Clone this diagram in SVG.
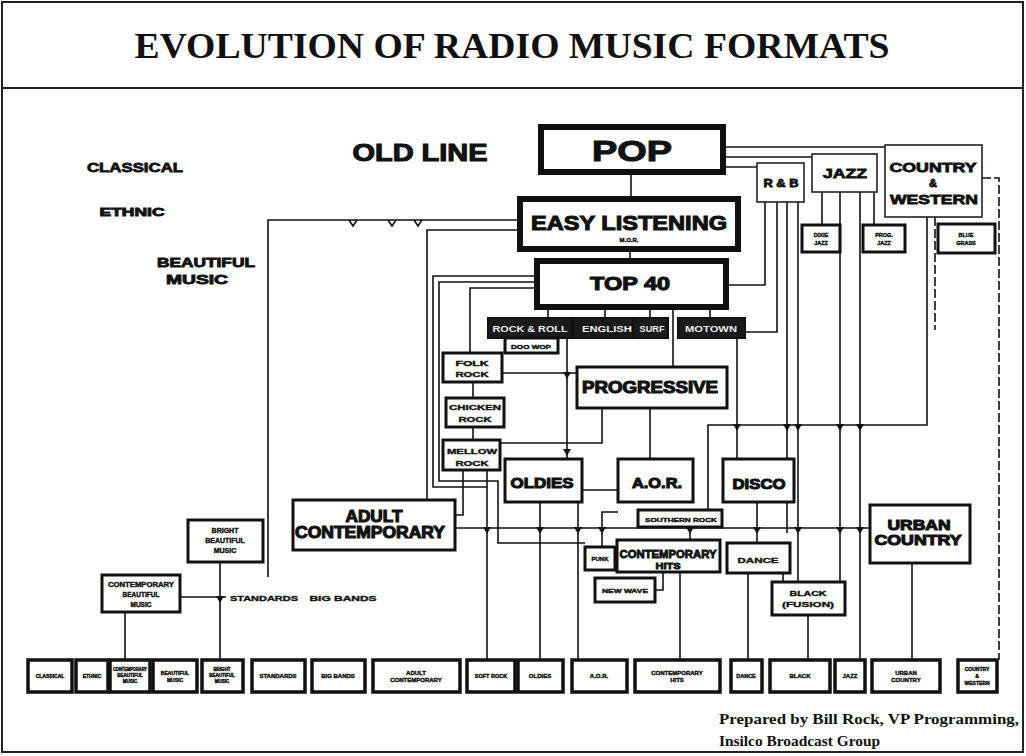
<svg xmlns="http://www.w3.org/2000/svg" width="1026" height="756" viewBox="0 0 1026 756">
<defs>
<style>
.b{fill:#fff;stroke:#111;stroke-width:3}
.b6{fill:#fff;stroke:#111;stroke-width:6}
.b1{fill:#fff;stroke:#222;stroke-width:1.6}
.bd{fill:#1a1a1a;stroke:#111;stroke-width:2}
.bb{fill:#fff;stroke:#111;stroke-width:3.5}
.t{font-family:"Liberation Sans",Arial,sans-serif;font-weight:bold;fill:#111;text-anchor:middle;stroke:#111;stroke-width:0.4}
.h{stroke-width:1.1}
.m{stroke-width:0.8}
.tw{font-family:"Liberation Sans",Arial,sans-serif;font-weight:bold;fill:#eee;text-anchor:middle}
.s{font-family:"Liberation Serif","Times New Roman",serif;font-weight:bold;fill:#111}
.c{fill:none;stroke:#111;stroke-width:1.6}
.a{fill:#111;stroke:none}
</style>
<path id="ar" d="M-4,-1 L4,-1 L0,6 Z"/>
<path id="vn" d="M-4,0 L0,6 L4,0"/>
</defs>
<rect x="0" y="0" width="1026" height="756" fill="#fff"/>
<rect x="2" y="2" width="1021" height="750" fill="none" stroke="#222" stroke-width="2"/>
<line x1="2" y1="88" x2="1023" y2="88" stroke="#222" stroke-width="2"/>
<text class="s" x="512" y="58" font-size="36" text-anchor="middle" textLength="755" lengthAdjust="spacingAndGlyphs">EVOLUTION OF RADIO MUSIC FORMATS</text>

<g id="labels">
<text class="t m" x="135" y="172" font-size="13" textLength="96" lengthAdjust="spacingAndGlyphs">CLASSICAL</text>
<text class="t m" x="132" y="216" font-size="11" textLength="65" lengthAdjust="spacingAndGlyphs">ETHNIC</text>
<text class="t m" x="206" y="267" font-size="12" textLength="98" lengthAdjust="spacingAndGlyphs">BEAUTIFUL</text>
<text class="t m" x="197" y="284" font-size="12" textLength="62" lengthAdjust="spacingAndGlyphs">MUSIC</text>
<text class="t h" x="420" y="161" font-size="24" textLength="135" lengthAdjust="spacingAndGlyphs">OLD LINE</text>
<text class="t" x="264" y="601" font-size="8" textLength="68" lengthAdjust="spacingAndGlyphs">STANDARDS</text>
<text class="t" x="343" y="601" font-size="8" textLength="67" lengthAdjust="spacingAndGlyphs">BIG BANDS</text>
</g>

<g id="connectors" class="c">
<path d="M631,172V199"/>
<path d="M630,249V261"/>
<path d="M723,147H885"/>
<path d="M723,157H812"/>
<path d="M723,167H757"/>
<path d="M765,202V285H726"/>
<path d="M777,202V332H745"/>
<path d="M787,202V533"/>
<path d="M798,202V582"/>
<path d="M822,192V225"/>
<path d="M874,192V225"/>
<path d="M840,192V582"/>
<path d="M860,192V660"/>
<path d="M927,217V425H708V510"/>
<path d="M982,178H999V660" stroke-dasharray="9,3"/>
<path d="M935,217V330" stroke-dasharray="9,3"/>
<path d="M548,307V320M605,307V320M650,307V320M710,307V320"/>
<path d="M673,307V367"/>
<path d="M737,338V458"/>
<path d="M567,338V458"/>
<path d="M502,373H577"/>
<path d="M473,382V398M473,427V440"/>
<path d="M602,408V443H500"/>
<path d="M650,408V458"/>
<path d="M520,220H268V577"/>
<path d="M520,230H427V500"/>
<path d="M537,276H433V487H487"/>
<path d="M537,282H439V481H498V543H585"/>
<path d="M537,288H470V353"/>
<path d="M463,470V515H455"/>
<path d="M455,528H870"/>
<path d="M487,470V660"/>
<path d="M540,502V660"/>
<path d="M618,490H578V660"/>
<path d="M618,512H602V547"/>
<path d="M690,527V540"/>
<path d="M757,502V543"/>
<path d="M663,572V590H655"/>
<path d="M680,572V660"/>
<path d="M748,573V660"/>
<path d="M783,573V582"/>
<path d="M808,615V660"/>
<path d="M912,563V660"/>
<path d="M125,612V660"/>
<path d="M220,562V660"/>
<path d="M180,597H226"/>
<g class="a">
<use href="#ar" x="487" y="528"/><use href="#ar" x="540" y="528"/><use href="#ar" x="578" y="528"/>
<use href="#ar" x="602" y="528"/><use href="#ar" x="690" y="528"/><use href="#ar" x="757" y="528"/>
<use href="#ar" x="798" y="528"/><use href="#ar" x="840" y="528"/><use href="#ar" x="860" y="528"/>
<use href="#ar" x="737" y="425"/><use href="#ar" x="787" y="425"/><use href="#ar" x="798" y="425"/>
<use href="#ar" x="840" y="425"/><use href="#ar" x="860" y="425"/>
<use href="#ar" x="567" y="450"/><use href="#ar" x="567" y="373"/><use href="#ar" x="220" y="597"/>
</g>
<use href="#vn" x="353" y="220"/><use href="#vn" x="392" y="220"/><use href="#vn" x="418" y="220"/>
</g>

<g id="pop"><rect class="b6" x="541" y="127" width="182" height="45"/><text class="t h" x="632" y="161" font-size="30" textLength="80" lengthAdjust="spacingAndGlyphs">POP</text></g>
<g id="easy-listening"><rect class="b6" x="520" y="199" width="218" height="50"/><text class="t h" x="629" y="230" font-size="21" textLength="196" lengthAdjust="spacingAndGlyphs">EASY LISTENING</text><text class="t" x="629" y="242" font-size="6">M.O.R.</text></g>
<g id="top40"><rect class="b6" x="537" y="261" width="189" height="46"/><text class="t h" x="630" y="290" font-size="19" textLength="80" lengthAdjust="spacingAndGlyphs">TOP 40</text></g>
<g id="rnb"><rect class="b1" x="757" y="163" width="47" height="39"/><text class="t m" x="781" y="187" font-size="11" textLength="35" lengthAdjust="spacingAndGlyphs">R &amp; B</text></g>
<g id="jazz"><rect class="b1" x="812" y="154" width="65" height="38"/><text class="t m" x="845" y="178" font-size="13" textLength="44" lengthAdjust="spacingAndGlyphs">JAZZ</text></g>
<g id="country-western"><rect class="b1" x="885" y="145" width="97" height="72"/><text class="t m" x="933" y="172" font-size="13" textLength="87" lengthAdjust="spacingAndGlyphs">COUNTRY</text><text class="t m" x="933" y="187" font-size="11">&amp;</text><text class="t m" x="934" y="204" font-size="13" textLength="88" lengthAdjust="spacingAndGlyphs">WESTERN</text></g>
<g id="dixie-jazz"><rect class="b" x="802" y="225" width="38" height="27"/><text class="t" x="821" y="237" font-size="5.5">DIXIE</text><text class="t" x="821" y="245" font-size="5.5">JAZZ</text></g>
<g id="prog-jazz"><rect class="b" x="863" y="225" width="42" height="27"/><text class="t" x="884" y="237" font-size="5.5">PROG.</text><text class="t" x="884" y="245" font-size="5.5">JAZZ</text></g>
<g id="blue-grass"><rect class="b" x="938" y="224" width="57" height="29"/><text class="t" x="966" y="237" font-size="5.5">BLUE</text><text class="t" x="966" y="245" font-size="5.5">GRASS</text></g>

<g id="rock-and-roll"><rect class="bd" x="488" y="318" width="84" height="20"/><text class="tw" x="530" y="332" font-size="9" textLength="75" lengthAdjust="spacingAndGlyphs">ROCK &amp; ROLL</text></g>
<g id="english"><rect class="bd" x="573" y="318" width="60" height="20"/><text class="tw" x="607" y="332" font-size="9" textLength="50" lengthAdjust="spacingAndGlyphs">ENGLISH</text></g>
<g id="surf"><rect class="bd" x="633" y="318" width="35" height="20"/><text class="tw" x="652" y="332" font-size="9" textLength="25" lengthAdjust="spacingAndGlyphs">SURF</text></g>
<g id="motown"><rect class="bd" x="678" y="318" width="67" height="20"/><text class="tw" x="711" y="332" font-size="9" textLength="52" lengthAdjust="spacingAndGlyphs">MOTOWN</text></g>
<g id="doo-wop"><rect class="b" x="505" y="338" width="53" height="15"/><text class="t" x="531" y="349" font-size="6" textLength="40" lengthAdjust="spacingAndGlyphs">DOO WOP</text></g>

<g id="folk-rock"><rect class="b" x="443" y="353" width="59" height="29"/><text class="t" x="472" y="366" font-size="8" textLength="33" lengthAdjust="spacingAndGlyphs">FOLK</text><text class="t" x="472" y="377" font-size="8" textLength="33" lengthAdjust="spacingAndGlyphs">ROCK</text></g>
<g id="chicken-rock"><rect class="b" x="446" y="398" width="58" height="29"/><text class="t" x="475" y="410" font-size="8" textLength="52" lengthAdjust="spacingAndGlyphs">CHICKEN</text><text class="t" x="475" y="422" font-size="8" textLength="33" lengthAdjust="spacingAndGlyphs">ROCK</text></g>
<g id="mellow-rock"><rect class="b" x="443" y="440" width="57" height="30"/><text class="t" x="472" y="454" font-size="8" textLength="50" lengthAdjust="spacingAndGlyphs">MELLOW</text><text class="t" x="472" y="466" font-size="8" textLength="33" lengthAdjust="spacingAndGlyphs">ROCK</text></g>
<g id="progressive"><rect class="b" x="577" y="367" width="150" height="41"/><text class="t h" x="650" y="393" font-size="16" textLength="136" lengthAdjust="spacingAndGlyphs">PROGRESSIVE</text></g>

<g id="oldies"><rect class="b" x="505" y="459" width="77" height="43"/><text class="t h" x="542" y="488" font-size="15" textLength="63" lengthAdjust="spacingAndGlyphs">OLDIES</text></g>
<g id="aor"><rect class="b" x="618" y="459" width="75" height="43"/><text class="t h" x="657" y="488" font-size="15" textLength="50" lengthAdjust="spacingAndGlyphs">A.O.R.</text></g>
<g id="disco"><rect class="b" x="723" y="459" width="71" height="43"/><text class="t h" x="759" y="489" font-size="15" textLength="53" lengthAdjust="spacingAndGlyphs">DISCO</text></g>
<g id="southern-rock"><rect class="b" x="638" y="510" width="84" height="17"/><text class="t" x="681" y="522" font-size="6" textLength="72" lengthAdjust="spacingAndGlyphs">SOUTHERN ROCK</text></g>
<g id="adult-contemporary"><rect class="b" x="293" y="500" width="162" height="50"/><text class="t h" x="374" y="522" font-size="16" textLength="57" lengthAdjust="spacingAndGlyphs">ADULT</text><text class="t h" x="370" y="538" font-size="16" textLength="150" lengthAdjust="spacingAndGlyphs">CONTEMPORARY</text></g>
<g id="urban-country"><rect class="b" x="870" y="505" width="100" height="58"/><text class="t h" x="919" y="530" font-size="15" textLength="63" lengthAdjust="spacingAndGlyphs">URBAN</text><text class="t h" x="918" y="545" font-size="15" textLength="87" lengthAdjust="spacingAndGlyphs">COUNTRY</text></g>
<g id="punk"><rect class="b" x="585" y="547" width="30" height="23"/><text class="t" x="600" y="561" font-size="6">PUNK</text></g>
<g id="contemporary-hits"><rect class="b" x="617" y="540" width="103" height="32"/><text class="t m" x="668" y="558" font-size="10" textLength="97" lengthAdjust="spacingAndGlyphs">CONTEMPORARY</text><text class="t m" x="668" y="569" font-size="9" textLength="25" lengthAdjust="spacingAndGlyphs">HITS</text></g>
<g id="new-wave"><rect class="b" x="595" y="578" width="60" height="24"/><text class="t" x="625" y="593" font-size="6" textLength="46" lengthAdjust="spacingAndGlyphs">NEW WAVE</text></g>
<g id="dance"><rect class="b" x="727" y="543" width="63" height="30"/><text class="t" x="758" y="563" font-size="8" textLength="41" lengthAdjust="spacingAndGlyphs">DANCE</text></g>
<g id="black-fusion"><rect class="b" x="772" y="582" width="73" height="33"/><text class="t" x="808" y="596" font-size="8" textLength="37" lengthAdjust="spacingAndGlyphs">BLACK</text><text class="t" x="808" y="607" font-size="8" textLength="52" lengthAdjust="spacingAndGlyphs">(FUSION)</text></g>
<g id="bright-beautiful"><rect class="b" x="188" y="520" width="75" height="42"/><text class="t" x="225" y="533" font-size="7">BRIGHT</text><text class="t" x="225" y="543" font-size="7">BEAUTIFUL</text><text class="t" x="225" y="553" font-size="7">MUSIC</text></g>
<g id="contemporary-beautiful"><rect class="b" x="102" y="575" width="78" height="37"/><text class="t" x="141" y="587" font-size="6.5" textLength="66" lengthAdjust="spacingAndGlyphs">CONTEMPORARY</text><text class="t" x="141" y="597" font-size="6.5">BEAUTIFUL</text><text class="t" x="141" y="607" font-size="6.5">MUSIC</text></g>

<g id="bottom-row">
<g id="b-classical"><rect class="bb" x="28" y="660" width="44" height="32"/><text class="t" x="50" y="678" font-size="5">CLASSICAL</text></g>
<g id="b-ethnic"><rect class="bb" x="76" y="660" width="32" height="32"/><text class="t" x="92" y="678" font-size="5">ETHNIC</text></g>
<g id="b-contemp-beautiful"><rect class="bb" x="110" y="660" width="40" height="32"/><text class="t" x="130" y="671" font-size="4.5" textLength="34" lengthAdjust="spacingAndGlyphs">CONTEMPORARY</text><text class="t" x="130" y="677" font-size="4.5">BEAUTIFUL</text><text class="t" x="130" y="683" font-size="4.5">MUSIC</text></g>
<g id="b-beautiful"><rect class="bb" x="153" y="660" width="44" height="32"/><text class="t" x="175" y="675" font-size="5">BEAUTIFUL</text><text class="t" x="175" y="682" font-size="5">MUSIC</text></g>
<g id="b-bright"><rect class="bb" x="202" y="660" width="41" height="32"/><text class="t" x="222" y="671" font-size="4.5">BRIGHT</text><text class="t" x="222" y="677" font-size="4.5">BEAUTIFUL</text><text class="t" x="222" y="683" font-size="4.5">MUSIC</text></g>
<g id="b-standards"><rect class="bb" x="252" y="660" width="53" height="32"/><text class="t" x="278" y="678" font-size="6">STANDARDS</text></g>
<g id="b-big-bands"><rect class="bb" x="312" y="660" width="53" height="32"/><text class="t" x="338" y="678" font-size="6">BIG BANDS</text></g>
<g id="b-adult"><rect class="bb" x="373" y="660" width="87" height="32"/><text class="t" x="416" y="675" font-size="6">ADULT</text><text class="t" x="416" y="682" font-size="6">CONTEMPORARY</text></g>
<g id="b-soft-rock"><rect class="bb" x="467" y="660" width="48" height="32"/><text class="t" x="491" y="678" font-size="5.5">SOFT ROCK</text></g>
<g id="b-oldies"><rect class="bb" x="518" y="660" width="45" height="32"/><text class="t" x="540" y="678" font-size="6">OLDIES</text></g>
<g id="b-aor"><rect class="bb" x="572" y="660" width="55" height="32"/><text class="t" x="599" y="678" font-size="6">A.O.R.</text></g>
<g id="b-hits"><rect class="bb" x="635" y="660" width="85" height="32"/><text class="t" x="677" y="675" font-size="6">CONTEMPORARY</text><text class="t" x="677" y="682" font-size="6">HITS</text></g>
<g id="b-dance"><rect class="bb" x="731" y="660" width="31" height="32"/><text class="t" x="746" y="678" font-size="5.5">DANCE</text></g>
<g id="b-black"><rect class="bb" x="770" y="660" width="60" height="32"/><text class="t" x="800" y="678" font-size="6">BLACK</text></g>
<g id="b-jazz"><rect class="bb" x="835" y="660" width="30" height="32"/><text class="t" x="850" y="678" font-size="6">JAZZ</text></g>
<g id="b-urban"><rect class="bb" x="872" y="660" width="68" height="32"/><text class="t" x="906" y="675" font-size="6">URBAN</text><text class="t" x="906" y="682" font-size="6">COUNTRY</text></g>
<g id="b-country"><rect class="bb" x="958" y="660" width="39" height="32"/><text class="t" x="977" y="671" font-size="5">COUNTRY</text><text class="t" x="977" y="678" font-size="5">&amp;</text><text class="t" x="977" y="685" font-size="5">WESTERN</text></g>
</g>

<text class="s" x="719" y="724" font-size="14" textLength="300" lengthAdjust="spacingAndGlyphs">Prepared by Bill Rock, VP Programming,</text>
<text class="s" x="719" y="746" font-size="14" textLength="161" lengthAdjust="spacingAndGlyphs">Insilco Broadcast Group</text>
</svg>
